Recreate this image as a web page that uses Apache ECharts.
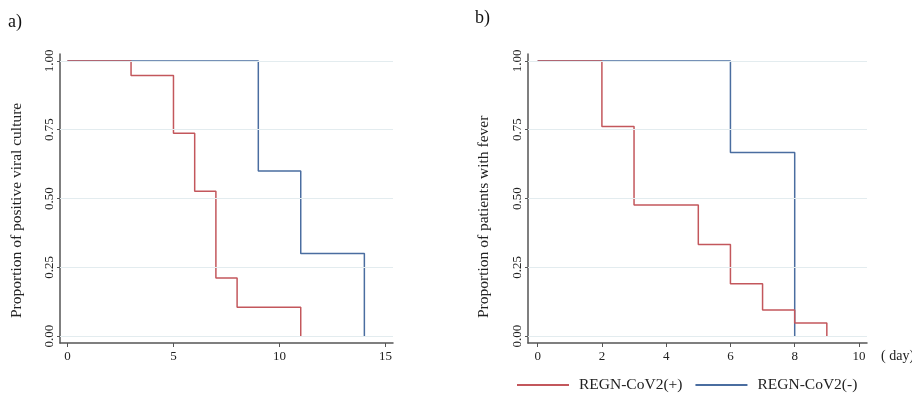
<!DOCTYPE html>
<html>
<head>
<meta charset="utf-8">
<script src="https://cdn.jsdelivr.net/npm/echarts@6/dist/echarts.min.js"></script>
<style>
html,body{margin:0;padding:0;background:#fff;}
#chart{width:912px;height:397px;}
</style>
</head>
<body>
<div id="chart"></div>
<script>
// ---- data ----
const seriesNames = ['REGN-CoV2(+)', 'REGN-CoV2(-)'];
// panel a) viral culture
const daysA_pos = [0, 3, 5, 6, 7, 8, 11];
const propA_pos = [1, 0.947, 0.737, 0.526, 0.211, 0.105, 0];
const daysA_neg = [0, 9, 11, 14];
const propA_neg = [1, 0.6, 0.3, 0];
// panel b) fever
const daysB_pos = [0, 2, 3, 5, 6, 7, 8, 9];
const propB_pos = [1, 0.762, 0.476, 0.333, 0.190, 0.095, 0.048, 0];
const daysB_neg = [0, 6, 8];
const propB_neg = [1, 0.667, 0];
// ticks
const xTicksA = [0, 5, 10, 15];
const xTicksB = [0, 2, 4, 6, 8, 10];
const yTicks = [0, 0.25, 0.5, 0.75, 1];
const titleA = 'Proportion of positive viral culture';
const titleB = 'Proportion of patients with fever';

const FONT = "'Times New Roman','Liberation Serif',serif";
const RED = '#c3575c';
const BLUE = '#4a6da0';
const GRIDC = '#e3ecef';
const AXISC = '#555';

function pairs(xs, ys) { return xs.map((x, i) => [x, ys[i]]); }

function xAxis(idx, min, max, ticks) {
  return {
    type: 'value', gridIndex: idx, min: min, max: max,
    axisLine: { show: true, onZero: false, lineStyle: { color: AXISC, width: 1.5 } },
    axisTick: { show: true, length: 4, customValues: ticks, lineStyle: { color: AXISC } },
    axisLabel: { customValues: ticks, margin: 7, fontFamily: FONT, fontSize: 13, color: '#222' },
    splitLine: { show: false }
  };
}
function yAxis(idx) {
  return {
    type: 'value', gridIndex: idx, min: -0.025, max: 1.025,
    axisLine: { show: true, onZero: false, lineStyle: { color: AXISC, width: 1.5 } },
    axisTick: { show: true, length: 3, customValues: yTicks, lineStyle: { color: AXISC } },
    axisLabel: { customValues: yTicks, rotate: 90, margin: 4, fontFamily: FONT, fontSize: 13, color: '#222',
      formatter: v => v.toFixed(2) },
    splitLine: { show: false }
  };
}
function line(name, idx, data, color, withGrid) {
  const s = {
    type: 'line', name: name, xAxisIndex: idx, yAxisIndex: idx,
    data: data, step: 'end', symbol: 'none', showSymbol: false,
    lineStyle: { color: color, width: 1.5 }, itemStyle: { color: color },
    animation: false, silent: true
  };
  if (withGrid) {
    s.markLine = {
      silent: true, symbol: ['none', 'none'], animation: false,
      label: { show: false },
      lineStyle: { color: GRIDC, width: 1, type: 'solid' },
      data: yTicks.map(v => ({ yAxis: v }))
    };
    s.z = 1;
  }
  return s;
}

const chart = echarts.init(document.getElementById('chart'), null, { renderer: 'canvas' });
chart.setOption({
  backgroundColor: '#fff',
  animation: false,
  grid: [
    { left: 60, right: 519, top: 54, bottom: 54 },
    { left: 528, right: 45, top: 54, bottom: 54 }
  ],
  xAxis: [xAxis(0, -0.35, 15.35, xTicksA), xAxis(1, -0.3, 10.25, xTicksB)],
  yAxis: [yAxis(0), yAxis(1)],
  legend: {
    data: seriesNames, left: 517, top: 377, padding: 0,
    icon: 'rect', itemWidth: 52, itemHeight: 2, itemGap: 13,
    textStyle: { fontFamily: FONT, fontSize: 15.5, color: '#222', padding: [0, 0, 0, 5] }
  },
  graphic: [
    { type: 'text', left: 8, top: 13, style: { text: 'a)', font: '18px ' + FONT, fill: '#111' } },
    { type: 'text', left: 475, top: 9, style: { text: 'b)', font: '18px ' + FONT, fill: '#111' } },
    { type: 'text', x: 17, y: 318, rotation: Math.PI / 2,
      style: { text: titleA, font: '15.5px ' + FONT, fill: '#222', textAlign: 'left', textVerticalAlign: 'middle' } },
    { type: 'text', x: 484, y: 318, rotation: Math.PI / 2,
      style: { text: titleB, font: '15.5px ' + FONT, fill: '#222', textAlign: 'left', textVerticalAlign: 'middle' } },
    { type: 'text', x: 881, y: 356,
      style: { text: '( day)', font: '14px ' + FONT, fill: '#222', textAlign: 'left', textVerticalAlign: 'middle' } }
  ],
  series: [
    line(seriesNames[1], 0, pairs(daysA_neg, propA_neg), BLUE, true),
    line(seriesNames[0], 0, pairs(daysA_pos, propA_pos), RED, false),
    line(seriesNames[1], 1, pairs(daysB_neg, propB_neg), BLUE, true),
    line(seriesNames[0], 1, pairs(daysB_pos, propB_pos), RED, false)
  ]
});
</script>
</body>
</html>
